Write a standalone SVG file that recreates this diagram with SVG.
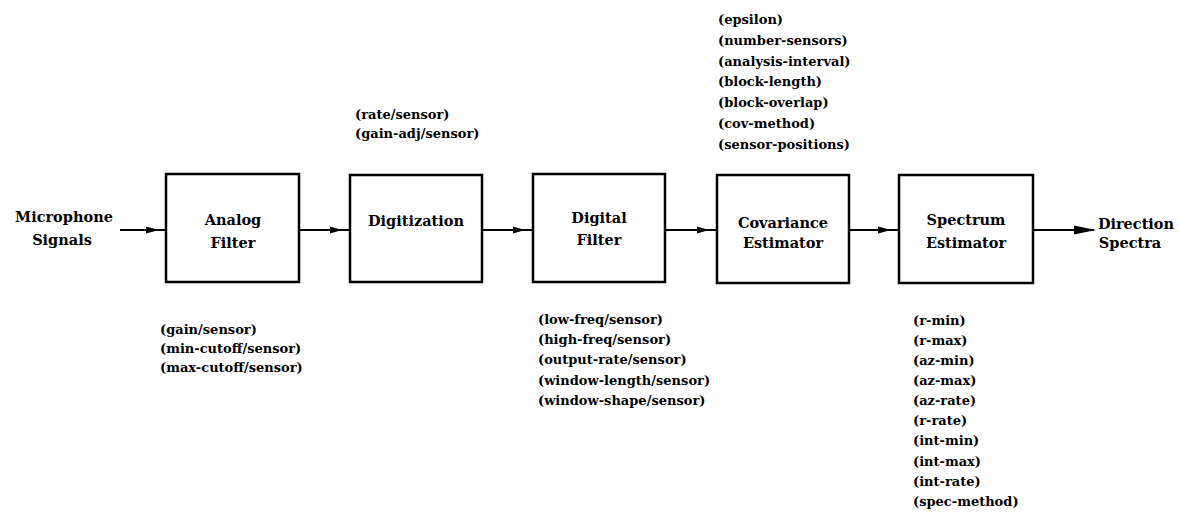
<svg xmlns="http://www.w3.org/2000/svg" width="1179" height="514" viewBox="0 0 1179 514">
<style>
.box{fill:#fff;stroke:#000;stroke-width:2.5}
.lbl{font-family:"DejaVu Serif","Liberation Serif",serif;font-weight:bold;font-size:14.5px;fill:#000}
.par{font-family:"DejaVu Serif","Liberation Serif",serif;font-weight:bold;font-size:13px;fill:#000}
.ln{stroke:#000;stroke-width:2.2;fill:none}
.ah{fill:#000}
</style>
<rect width="1179" height="514" fill="#fff"/>
<g id="connectors">
<line class="ln" x1="120" y1="230" x2="166" y2="230"/><path class="ah" d="M159,230 L146,226.5 L146,233.5 Z"/>
<line class="ln" x1="299" y1="230" x2="350" y2="230"/><path class="ah" d="M342,230 L330,226.5 L330,233.5 Z"/>
<line class="ln" x1="482" y1="230" x2="533" y2="230"/><path class="ah" d="M525,230 L513,226.5 L513,233.5 Z"/>
<line class="ln" x1="665" y1="230" x2="717" y2="230"/><path class="ah" d="M709,230 L697,226.5 L697,233.5 Z"/>
<line class="ln" x1="849" y1="230" x2="899" y2="230"/><path class="ah" d="M891,230 L878,226.5 L878,233.5 Z"/>
<line class="ln" x1="1033" y1="230" x2="1094" y2="230"/><path class="ah" d="M1096,230 L1074,225.5 L1074,234.5 Z"/>
</g>
<g id="microphone-signals">
<text class="lbl" x="64" y="222" text-anchor="middle">Microphone</text>
<text class="lbl" x="62" y="245" text-anchor="middle">Signals</text>
</g>
<g id="analog-filter">
<rect class="box" x="166" y="174" width="133" height="108"/>
<text class="lbl" x="233" y="225" text-anchor="middle">Analog</text>
<text class="lbl" x="233" y="248" text-anchor="middle">Filter</text>
</g>
<g id="analog-params">
<text class="par" x="160" y="334">(gain/sensor)</text>
<text class="par" x="160" y="353">(min-cutoff/sensor)</text>
<text class="par" x="160" y="372">(max-cutoff/sensor)</text>
</g>
<g id="digitization">
<rect class="box" x="350" y="175" width="132" height="107"/>
<text class="lbl" x="416" y="226" text-anchor="middle">Digitization</text>
</g>
<g id="digitization-params">
<text class="par" x="355" y="119">(rate/sensor)</text>
<text class="par" x="355" y="138">(gain-adj/sensor)</text>
</g>
<g id="digital-filter">
<rect class="box" x="533" y="174" width="132" height="108"/>
<text class="lbl" x="599" y="223" text-anchor="middle">Digital</text>
<text class="lbl" x="599" y="245" text-anchor="middle">Filter</text>
</g>
<g id="digital-params">
<text class="par" x="538" y="324">(low-freq/sensor)</text>
<text class="par" x="538" y="344">(high-freq/sensor)</text>
<text class="par" x="538" y="364">(output-rate/sensor)</text>
<text class="par" x="538" y="385">(window-length/sensor)</text>
<text class="par" x="538" y="405">(window-shape/sensor)</text>
</g>
<g id="covariance-estimator">
<rect class="box" x="717" y="175" width="132" height="108"/>
<text class="lbl" x="783" y="228" text-anchor="middle">Covariance</text>
<text class="lbl" x="783" y="248" text-anchor="middle">Estimator</text>
</g>
<g id="covariance-params">
<text class="par" x="718" y="24">(epsilon)</text>
<text class="par" x="718" y="45">(number-sensors)</text>
<text class="par" x="718" y="66">(analysis-interval)</text>
<text class="par" x="718" y="86">(block-length)</text>
<text class="par" x="718" y="107">(block-overlap)</text>
<text class="par" x="718" y="128">(cov-method)</text>
<text class="par" x="718" y="149">(sensor-positions)</text>
</g>
<g id="spectrum-estimator">
<rect class="box" x="899" y="175" width="134" height="108"/>
<text class="lbl" x="966" y="225" text-anchor="middle">Spectrum</text>
<text class="lbl" x="966" y="248" text-anchor="middle">Estimator</text>
</g>
<g id="spectrum-params">
<text class="par" x="913" y="325">(r-min)</text>
<text class="par" x="913" y="345">(r-max)</text>
<text class="par" x="913" y="365">(az-min)</text>
<text class="par" x="913" y="385">(az-max)</text>
<text class="par" x="913" y="405">(az-rate)</text>
<text class="par" x="913" y="425">(r-rate)</text>
<text class="par" x="913" y="445">(int-min)</text>
<text class="par" x="913" y="466">(int-max)</text>
<text class="par" x="913" y="486">(int-rate)</text>
<text class="par" x="913" y="506">(spec-method)</text>
</g>
<g id="direction-spectra">
<text class="lbl" x="1136" y="229" text-anchor="middle">Direction</text>
<text class="lbl" x="1130" y="248" text-anchor="middle">Spectra</text>
</g>
</svg>
